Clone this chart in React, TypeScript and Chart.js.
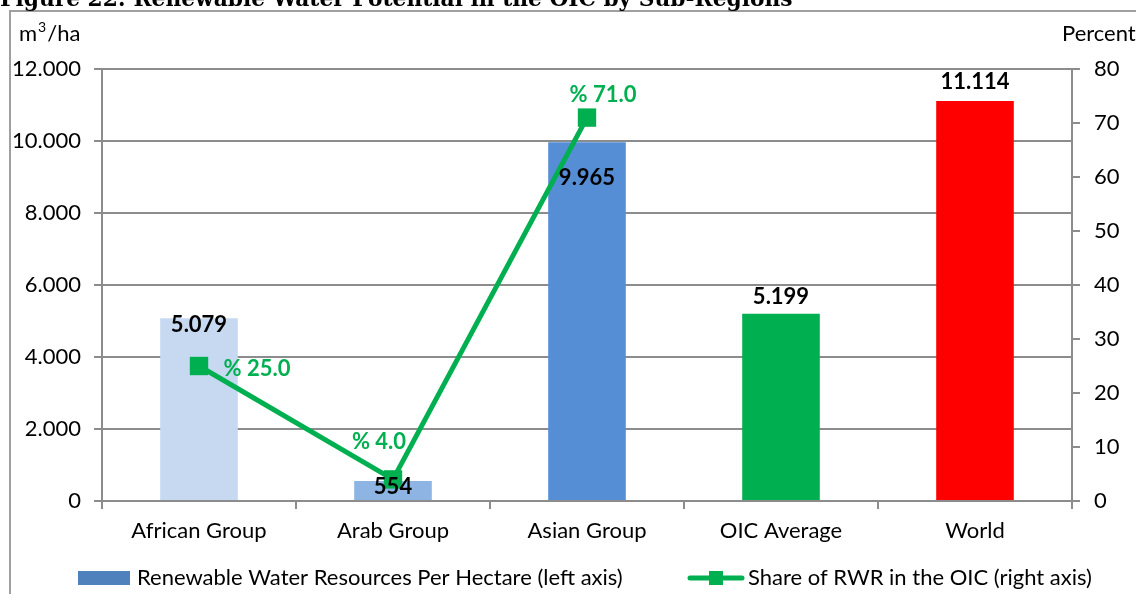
import React, { useEffect, useRef } from "react";
import { Chart, registerables } from "chart.js";

Chart.register(...registerables);

const categories = ["African Group", "Arab Group", "Asian Group", "OIC Average", "World"];
const rwrPerHectare = [5079, 554, 9965, 5199, 11114];
const shareOfRWR = [25.0, 4.0, 71.0, null, null];
const barColors = ["#C6D9F1", "#8EB4E3", "#558ED5", "#00B050", "#FF0000"];
const barSeriesName = "Renewable Water Resources Per Hectare (left axis)";
const lineSeriesName = "Share of RWR in the OIC (right axis)";
const titleText = "Figure 22: Renewable Water Potential in the OIC by Sub-Regions";

const FONT = "Lato";
const FS = 22;
const GRAY = "#8C8C8C";
const GREEN = "#00B050";

// label placement (style): offsets in px
const barLabelDy = [7, 6, 36, -17, -19];
const lineLabelOffsets = [[58, 3], [-14, -37], [16, -23]];

const fmtThousands = (v: number) => String(Math.round(v)).replace(/\B(?=(\d{3})+(?!\d))/g, ".");

const decorPlugin = {
  id: "decor",
  beforeDraw(chart: any) {
    const ctx = chart.ctx;
    ctx.save();
    // frame
    ctx.strokeStyle = "#A0A0A0";
    ctx.lineWidth = 2;
    ctx.beginPath();
    ctx.moveTo(10, 700);
    ctx.lineTo(10, 11);
    ctx.lineTo(1200, 11);
    ctx.stroke();
    // title (cut at top)
    let size = 20;
    ctx.font = `bold ${size}px "DejaVu Serif"`;
    const w = ctx.measureText(titleText).width;
    size = size * 793 / w;
    ctx.font = `bold ${size}px "DejaVu Serif"`;
    ctx.fillStyle = "#000";
    ctx.textBaseline = "alphabetic";
    ctx.textAlign = "left";
    ctx.fillText(titleText, 0, 6);
    // axis titles
    ctx.font = `${FS}px ${FONT}`;
    ctx.textBaseline = "middle";
    ctx.fillText("m", 19, 34);
    const mw = ctx.measureText("m").width;
    ctx.font = `14px ${FONT}`;
    ctx.fillText("3", 19 + mw + 1, 27);
    const sw = ctx.measureText("3").width;
    ctx.font = `${FS}px ${FONT}`;
    ctx.fillText("/ha", 19 + mw + sw + 2, 34);
    ctx.fillText("Percent", 1062, 34);
    ctx.restore();
  },
  afterDatasetsDraw(chart: any) {
    const ctx = chart.ctx;
    ctx.save();
    ctx.textAlign = "center";
    ctx.textBaseline = "middle";
    // bar labels
    const barMeta = chart.getDatasetMeta(0);
    ctx.font = `bold ${FS}px ${FONT}`;
    ctx.fillStyle = "#000";
    barMeta.data.forEach((el: any, i: number) => {
      ctx.fillText(fmtThousands(rwrPerHectare[i]), el.x, el.y + barLabelDy[i]);
    });
    // line labels
    const lineMeta = chart.getDatasetMeta(1);
    ctx.fillStyle = GREEN;
    lineMeta.data.forEach((el: any, i: number) => {
      const v = shareOfRWR[i];
      if (v == null) return;
      const [dx, dy] = lineLabelOffsets[i];
      ctx.fillText("% " + v.toFixed(1), el.x + dx, el.y + dy);
    });
    // legend
    ctx.font = `${FS}px ${FONT}`;
    ctx.textAlign = "left";
    ctx.fillStyle = "#4F81BD";
    ctx.fillRect(78, 571, 52, 14);
    ctx.fillStyle = "#000";
    ctx.fillText(barSeriesName, 137, 578);
    ctx.strokeStyle = GREEN;
    ctx.lineWidth = 5;
    ctx.lineCap = "round";
    ctx.beginPath();
    ctx.moveTo(690, 578);
    ctx.lineTo(742, 578);
    ctx.stroke();
    ctx.fillStyle = GREEN;
    ctx.fillRect(709, 571, 14, 14);
    ctx.fillStyle = "#000";
    ctx.fillText(lineSeriesName, 748, 578);
    ctx.restore();
  },
};

export default function App() {
  const ref = useRef<HTMLCanvasElement | null>(null);
  useEffect(() => {
    document.body.style.margin = "0";
    const canvas = ref.current!;
    const chart = new Chart(canvas, {
      type: "bar",
      data: {
        labels: categories,
        datasets: [
          {
            type: "bar",
            label: barSeriesName,
            data: rwrPerHectare,
            backgroundColor: barColors,
            yAxisID: "y",
            categoryPercentage: 1,
            barPercentage: 0.4,
            order: 2,
          },
          {
            type: "line",
            label: lineSeriesName,
            data: shareOfRWR,
            yAxisID: "y1",
            borderColor: GREEN,
            backgroundColor: GREEN,
            borderWidth: 5,
            pointStyle: "rect",
            pointRadius: 13,
            pointBorderWidth: 0,
            spanGaps: false,
            order: 1,
          } as any,
        ],
      },
      options: {
        responsive: false,
        animation: false,
        layout: { padding: { top: 69, left: 0, right: 0, bottom: 0 } },
        plugins: { legend: { display: false }, tooltip: { enabled: false }, title: { display: false } },
        scales: {
          x: {
            offset: true,
            grid: { offset: true, drawOnChartArea: false, tickLength: 8, color: GRAY, lineWidth: 2 },
            border: { color: GRAY, width: 2 },
            ticks: { color: "#000", font: { family: FONT, size: FS }, padding: 9 },
            afterFit: (s: any) => { s.height = 93; },
          },
          y: {
            position: "left",
            min: 0,
            max: 12000,
            ticks: { stepSize: 2000, color: "#000", font: { family: FONT, size: FS }, padding: 13, callback: (v: any) => fmtThousands(Number(v)) },
            grid: { color: GRAY, lineWidth: 2, tickLength: 8 },
            border: { color: GRAY, width: 2 },
            afterFit: (s: any) => { s.width = 102; },
          },
          y1: {
            position: "right",
            min: 0,
            max: 80,
            ticks: { stepSize: 10, color: "#000", font: { family: FONT, size: FS }, padding: 14 },
            grid: { drawOnChartArea: false, color: GRAY, lineWidth: 2, tickLength: 8 },
            border: { color: GRAY, width: 2 },
            afterFit: (s: any) => { s.width = 64; },
          },
        },
      },
      plugins: [decorPlugin],
    });
    return () => chart.destroy();
  }, []);
  return <canvas ref={ref} width={1136} height={594} style={{ display: "block" }} />;
}
